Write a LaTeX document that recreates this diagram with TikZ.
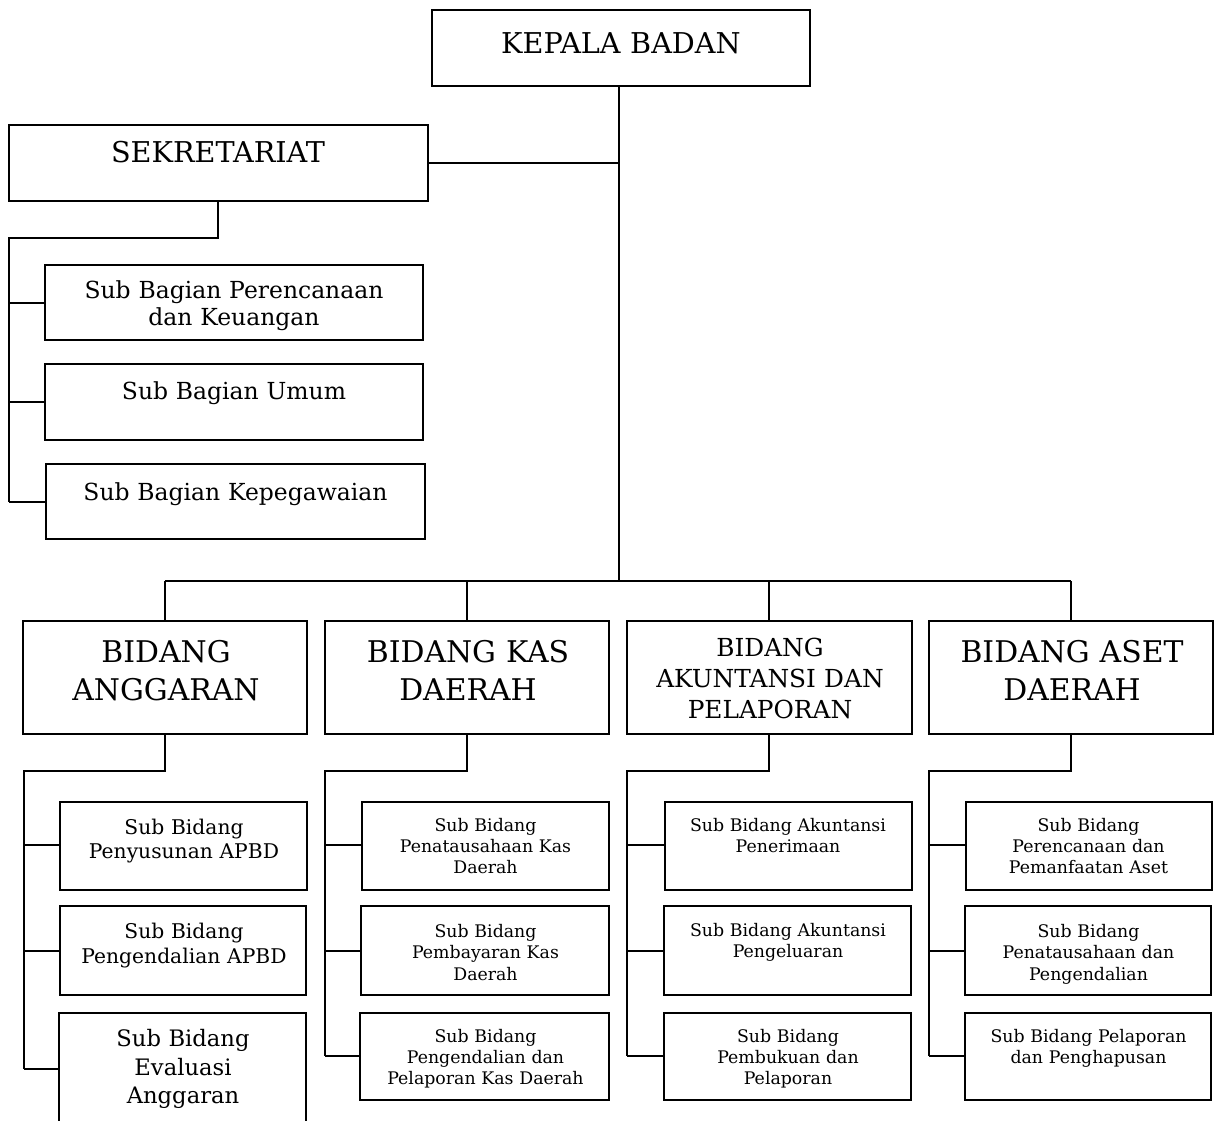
\documentclass[tikz,border=0pt]{standalone}
\usepackage{fontspec}
\setmainfont{DejaVu Serif}
\usetikzlibrary{fit}
\begin{document}
\begin{tikzpicture}[x=0.75pt,y=-0.75pt,
  box/.style={draw=black, line width=1.5pt, inner sep=0pt, rectangle},
  link/.style={draw=black, line width=1.5pt},
  txt/.style={anchor=base, inner sep=0pt, align=center, text width=300pt},
  fbig/.style={font=\fontsize{21.5}{26}\selectfont},
  fbid/.style={font=\fontsize{22.4}{29}\selectfont},
  fbidsm/.style={font=\fontsize{18.6}{23.6}\selectfont},
  fsbag/.style={font=\fontsize{17.6}{20.6}\selectfont},
  fsA/.style={font=\fontsize{15.2}{18.4}\selectfont},
  feval/.style={font=\fontsize{17}{21.5}\selectfont},
  fsmall/.style={font=\fontsize{13}{16.1}\selectfont}
]
\path[use as bounding box] (0,0) rectangle (1214,1121);
\begin{scope}
\clip (0,0) rectangle (1214,1121);
% boxes
\node[box, fit={(432,10) (810,86)}] (kepala) {};
\node[box, fit={(9,125) (428,201)}] (sekr) {};
\node[box, fit={(45,265) (423,340)}] (sb1) {};
\node[box, fit={(45,364) (423,440)}] (sb2) {};
\node[box, fit={(46,464) (425,539)}] (sb3) {};
\node[box, fit={(23,621) (307,734)}] (bA) {};
\node[box, fit={(325,621) (609,734)}] (bB) {};
\node[box, fit={(627,621) (912,734)}] (bC) {};
\node[box, fit={(929,621) (1213,734)}] (bD) {};
\node[box, fit={(60,802) (307,889.5)}] (A1) {};
\node[box, fit={(60,906) (306,995)}] (A2) {};
\node[box, fit={(59,1012.6) (306,1140)}] (A3) {};
\node[box, fit={(362,802) (609,889.5)}] (B1) {};
\node[box, fit={(361,906) (609,995)}] (B2) {};
\node[box, fit={(360,1012.6) (609,1099.5)}] (B3) {};
\node[box, fit={(664.6,802) (911.7,889.5)}] (C1) {};
\node[box, fit={(664,906) (910.5,995)}] (C2) {};
\node[box, fit={(664,1012.6) (910.5,1099.5)}] (C3) {};
\node[box, fit={(966,802) (1211.6,889.5)}] (D1) {};
\node[box, fit={(965.3,906) (1210.8,995)}] (D2) {};
\node[box, fit={(964.5,1012.6) (1210.8,1099.5)}] (D3) {};
% texts
\node[txt, fbig] (kepala-t) at (621,53) {KEPALA BADAN};
\node[txt, fbig] (sekr-t) at (218,162.5) {SEKRETARIAT};
\node[txt, fsbag] (sb1-t) at (234,298) {Sub Bagian Perencanaan\\dan Keuangan};
\node[txt, fsbag] (sb2-t) at (234,399) {Sub Bagian Umum};
\node[txt, fsbag] (sb3-t) at (235.5,500) {Sub Bagian Kepegawaian};
\node[txt, fbid] (bA-t) at (166,662) {BIDANG\\ANGGARAN};
\node[txt, fbid] (bB-t) at (468,662) {BIDANG KAS\\DAERAH};
\node[txt, fbidsm] (bC-t) at (770,656) {BIDANG\\AKUNTANSI DAN\\PELAPORAN};
\node[txt, fbid] (bD-t) at (1072,662) {BIDANG ASET\\DAERAH};
\node[txt, fsA] (A1-t) at (184,834) {Sub Bidang\\Penyusunan APBD};
\node[txt, fsA] (A2-t) at (184,938.5) {Sub Bidang\\Pengendalian APBD};
\node[txt, feval] (A3-t) at (183,1046.6) {Sub Bidang\\Evaluasi\\Anggaran};
\node[txt, fsmall] (B1-t) at (485.5,831) {Sub Bidang\\Penatausahaan Kas\\Daerah};
\node[txt, fsmall] (B2-t) at (485.5,937.5) {Sub Bidang\\Pembayaran Kas\\Daerah};
\node[txt, fsmall] (B3-t) at (485.5,1042) {Sub Bidang\\Pengendalian dan\\Pelaporan Kas Daerah};
\node[txt, fsmall] (C1-t) at (788,831) {Sub Bidang Akuntansi\\Penerimaan};
\node[txt, fsmall] (C2-t) at (788,936.4) {Sub Bidang Akuntansi\\Pengeluaran};
\node[txt, fsmall] (C3-t) at (788,1042) {Sub Bidang\\Pembukuan dan\\Pelaporan};
\node[txt, fsmall] (D1-t) at (1088.5,831) {Sub Bidang\\Perencanaan dan\\Pemanfaatan Aset};
\node[txt, fsmall] (D2-t) at (1088.5,937.5) {Sub Bidang\\Penatausahaan dan\\Pengendalian};
\node[txt, fsmall] (D3-t) at (1088.5,1042) {Sub Bidang Pelaporan\\dan Penghapusan};
% junction coordinates
\coordinate (trunkTop) at (619,86);
\coordinate (sekrJ) at (619,162.5);
\coordinate (busL) at (165,581);
\coordinate (busR) at (1070.6,581);
\coordinate (busM) at (619,581);
% top connectors
\draw[link] (trunkTop) -- (busM);
\draw[link] (sekr.east |- sekrJ) -- (sekrJ);
\draw[link] (busL) -- (busR);
\draw[link] (busL) -- (busL |- bA.north);
\draw[link] (466.6,581) coordinate (busB) -- (busB |- bB.north);
\draw[link] (769,581) coordinate (busC) -- (busC |- bC.north);
\draw[link] (busR) -- (busR |- bD.north);
% sekretariat group
\coordinate (sJ) at (217.5,238);
\coordinate (sT) at (9,238);
\draw[link] (sJ |- sekr.south) -- (sJ) -- (sT) -- (9,502);
\draw[link] (9,302.5) -- (sb1.west |- 0,302.5);
\draw[link] (9,402) -- (sb2.west |- 0,402);
\draw[link] (9,502) -- (sb3.west |- 0,502);
% column A
\draw[link] (165,734) -- (165,771) -- (23.7,771) -- (23.7,1069);
\draw[link] (23.7,845) -- (A1.west |- 0,845);
\draw[link] (23.7,951) -- (A2.west |- 0,951);
\draw[link] (23.7,1069) -- (A3.west |- 0,1069);
% column B
\draw[link] (466.6,734) -- (466.6,771) -- (324.6,771) -- (324.6,1056);
\draw[link] (324.6,845) -- (B1.west |- 0,845);
\draw[link] (324.6,951) -- (B2.west |- 0,951);
\draw[link] (324.6,1056) -- (B3.west |- 0,1056);
% column C
\draw[link] (769,734) -- (769,771) -- (627.4,771) -- (627.4,1056);
\draw[link] (627.4,845) -- (C1.west |- 0,845);
\draw[link] (627.4,951) -- (C2.west |- 0,951);
\draw[link] (627.4,1056) -- (C3.west |- 0,1056);
% column D
\draw[link] (1070.6,734) -- (1070.6,771) -- (929,771) -- (929,1056);
\draw[link] (929,845) -- (D1.west |- 0,845);
\draw[link] (929,951) -- (D2.west |- 0,951);
\draw[link] (929,1056) -- (D3.west |- 0,1056);
\end{scope}
\end{tikzpicture}
\end{document}
